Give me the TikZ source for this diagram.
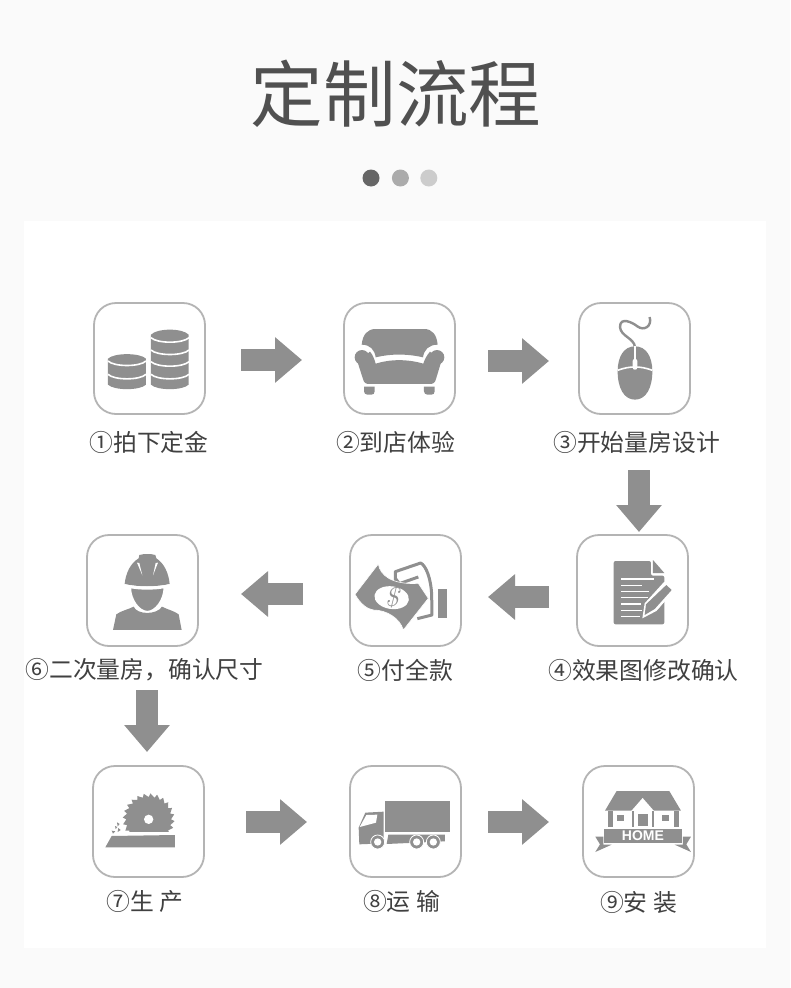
\documentclass[tikz,border=0pt]{standalone}
\usepackage{fontspec}
\newfontfamily\cjk{Noto Sans CJK SC}
\newfontfamily\hfont{Liberation Sans}
\usetikzlibrary{arrows.meta,positioning}
\definecolor{bgc}{HTML}{FAFAFA}
\definecolor{ttl}{HTML}{505050}
\definecolor{txc}{HTML}{404040}
\definecolor{icc}{HTML}{8F8F8F}
\definecolor{brd}{HTML}{B4B4B4}
\tikzset{
  stp/.style={draw=brd,line width=1.8pt,fill=white,rounded corners=22pt,
              minimum size=111pt,inner sep=0pt,outer sep=0pt},
  lbl/.style={font=\cjk\fontsize{23.8}{26}\selectfont,text=txc,inner sep=0pt},
  ar/.style={-{Triangle[length=27pt,width=44pt]},line width=22pt,draw=icc},
  dot/.style={circle,inner sep=0pt,minimum size=17pt},
  ico/.style={x=.3333pt,y=-.3333pt,fill=icc},
  wln/.style={draw=white,line width=1.6pt},
  gln/.style={draw=icc,line width=2.4pt,fill=none},
}
\begin{document}
\begin{tikzpicture}[x=1pt,y=-1pt]
  \fill[bgc] (0,0) rectangle (790,988);
  \fill[white] (24,221) rectangle (766,948);
  \node[font=\cjk\fontsize{72.6}{80}\selectfont,text=ttl,inner sep=0pt] (title) at (396,94) {定制流程};
  \node[dot,fill=black!60] (d1) at (371,178) {};
  \node[dot,fill=black!33] (d2) [right=12pt of d1] {};
  \node[dot,fill=black!20] (d3) [right=11pt of d2] {};

  \node[stp] (st1) at (149.5,358.5) {};
  \node[stp] (st2) [right=139pt of st1] {};
  \node[stp] (st3) [right=124pt of st2] {};
  \node[stp] (st4) [below=121pt of st3,xshift=-2pt] {};
  \node[stp] (st5) [left=116pt of st4] {};
  \node[stp] (st6) [left=152pt of st5] {};
  \node[stp] (st7) [below=120pt of st6,xshift=6pt] {};
  \node[stp] (st8) [right=146pt of st7] {};
  \node[stp] (st9) [right=122pt of st8] {};

  \node[lbl] (lb1) at (149,442) {①拍下定金};
  \node[lbl] (lb2) at (395.5,442) {②到店体验};
  \node[lbl] (lb3) at (636.5,442) {③开始量房设计};
  \node[lbl] (lb4) at (643.5,670) {④效果图修改确认};
  \node[lbl] (lb5) at (405.5,670) {⑤付全款};
  \node[lbl] (lb6) at (144.5,670) {⑥二次量房，确认尺寸};
  \node[lbl] (lb7) at (145,901) {⑦生 产};
  \node[lbl] (lb8) at (401.5,901) {⑧运 输};
  \node[lbl] (lb9) at (638.5,902) {⑨安 装};

  \draw[ar,shorten <=36pt,shorten >=42pt] ([yshift=-1.5pt]st1.east) -- ([yshift=-1.5pt]st2.west);
  \draw[ar,shorten <=33pt,shorten >=30pt] ([yshift=-2.5pt]st2.east) -- ([yshift=-2.5pt]st3.west);
  \draw[ar,shorten <=56pt,shorten >=3pt] ([xshift=4.5pt]st3.south) -- ([xshift=6.5pt]st4.north);
  \draw[ar,shorten <=28pt,shorten >=27pt] ([yshift=-6.5pt]st4.west) -- ([yshift=-6.5pt]st5.east);
  \draw[ar,shorten <=47pt,shorten >=43pt] ([yshift=-3.5pt]st5.west) -- ([yshift=-3.5pt]st6.east);
  \draw[ar,shorten <=44pt,shorten >=14pt] ([xshift=4.5pt]st6.south) -- ([xshift=-1.5pt]st7.north);
  \draw[ar,shorten <=42pt,shorten >=43pt] ([yshift=-.5pt]st7.east) -- ([yshift=-.5pt]st8.west);
  \draw[ar,shorten <=27pt,shorten >=34pt] ([yshift=-.5pt]st8.east) -- ([yshift=-.5pt]st9.west);

  % coins
  \begin{scope}[shift={(94,303)},ico]
    \fill (42,167) -- (42,245) .. controls (60,263) and (138,263) .. (156,245) -- (156,167)
      .. controls (138,149) and (60,149) .. (42,167) -- cycle;
    \fill (171,95) -- (171,245) .. controls (189,263) and (266,263) .. (284,245) -- (284,95)
      .. controls (266,75) and (189,75) .. (171,95) -- cycle;
    \foreach \ex/\ey in {42/174,42/214,171/104,171/141,171/176,171/214}
      \draw[wln] (\ex,\ey) .. controls (\ex+18,\ey+18) and (\ex+96,\ey+18) .. (\ex+114,\ey);
  \end{scope}

  % sofa
  \begin{scope}[shift={(344,303)},ico]
    \fill (53,125) .. controls (56,95) and (70,78) .. (95,78) -- (240,78)
      .. controls (265,78) and (278,95) .. (281,125) .. controls (255,125) and (240,140) .. (237,163)
      .. controls (190,152) and (140,152) .. (95,163) .. controls (92,140) and (78,125) .. (53,125) -- cycle;
    \fill (54,163) circle (22) (279,163) circle (22);
    \fill (40,175) -- (78,146) .. controls (86,155) and (92,170) .. (95,182)
      .. controls (140,168) and (190,168) .. (238,182) .. controls (241,170) and (250,155) .. (258,146)
      -- (292,175) -- (276,228) .. controls (274,238) and (268,243) .. (258,243) -- (75,243)
      .. controls (65,243) and (59,238) .. (57,228) -- cycle;
    \fill (60,251) -- (92,251) -- (92,265) .. controls (92,272) and (88,275) .. (82,275) -- (70,275)
      .. controls (64,275) and (60,270) .. (60,265) -- cycle;
    \fill (240,251) -- (272,251) -- (272,265) .. controls (272,272) and (268,275) .. (262,275) -- (250,275)
      .. controls (244,275) and (240,270) .. (240,265) -- cycle;
  \end{scope}

  % mouse
  \begin{scope}[shift={(579,303)},ico]
    \draw[gln] (168,132) .. controls (165,105) and (125,100) .. (123,72)
      .. controls (123,40) and (160,58) .. (175,70) .. controls (195,85) and (220,70) .. (212,42);
    \fill (168,130) .. controls (135,130) and (116,160) .. (116,205) .. controls (116,255) and (135,290) .. (168,290)
      .. controls (201,290) and (220,255) .. (220,205) .. controls (220,160) and (201,130) .. (168,130) -- cycle;
    \draw[wln] (116,202) .. controls (135,195) and (150,192) .. (168,192) .. controls (186,192) and (201,195) .. (220,202);
    \draw[wln] (168,130) -- (168,168);
    \fill[white,rounded corners=2pt] (161,168) rectangle (175,200);
  \end{scope}

  % document
  \begin{scope}[shift={(577,535)},ico]
    \fill[rounded corners=2pt] (110,78) -- (222,78) -- (222,122) -- (262,122) -- (262,268) -- (110,268) -- cycle;
    \fill (228,75) -- (262,114) -- (228,114) -- cycle;
    \foreach \ly/\lx in {132/232,151/195,170/216,188/214,207/192,226/195,244/190}
      \draw[wln] (132,\ly) -- (\lx,\ly);
    \fill[white] (262,140) -- (292,165) -- (238,228) -- (196,250) -- (203,205) -- cycle;
    \fill[white] (262,165) -- (262,196) -- (238,228) -- (280,180) -- cycle;
    \fill (268,150) -- (284,165) -- (233,222) -- (203,240) -- (207,208) -- cycle;
  \end{scope}

  % money
  \begin{scope}[shift={(350,535)},ico]
    \draw[draw=icc,line width=3pt,fill=none,line join=round] (136,145) -- (136,110) -- (212,84)
      .. controls (228,92) and (243,130) .. (245,180) -- (246,240) -- (202,251);
    \draw[draw=icc,line width=3pt,fill=none] (136,130) -- (148,146) -- (205,126);
    \fill (263,163) rectangle (292,250);
    \fill[draw=white,line width=.6pt] (15,178) -- (85,87) .. controls (90,120) and (125,150) .. (205,145) -- (235,190)
      -- (160,285) .. controls (150,250) and (110,225) .. (70,225) .. controls (50,222) and (30,205) .. (15,178) -- cycle;
    \fill[white,rotate around={-8:(125,188)}] (125,188) ellipse (52 and 34);
    \node[text=icc,font=\fontsize{27}{27}\selectfont\itshape,inner sep=0pt] (dollar) at (125,186) {\$};
  \end{scope}

  % worker
  \begin{scope}[shift={(87,535)},ico]
    \fill (113,147) .. controls (116,115) and (130,85) .. (155,70) -- (157,60) .. controls (170,56) and (192,56) .. (205,60)
      -- (208,70) .. controls (232,85) and (245,115) .. (248,147) .. controls (205,156) and (155,156) .. (113,147) -- cycle;
    \fill[white] (150,83) -- (157,84) -- (166,121) -- cycle;
    \fill[white] (213,83) -- (206,84) -- (198,121) -- cycle;
    \fill (78,285) -- (88,238) .. controls (105,226) and (120,225) .. (140,215) .. controls (150,240) and (210,240) .. (225,215)
      .. controls (245,225) and (262,228) .. (275,238) -- (284,285) -- cycle;
    \fill[draw=white,line width=1.6pt] (130,157) .. controls (155,163) and (205,163) .. (232,157)
      .. controls (232,195) and (205,230) .. (181,230) .. controls (157,230) and (130,195) .. (130,157) -- cycle;
    \draw[wln] (113,150) .. controls (155,160) and (205,160) .. (248,150);
  \end{scope}

  % saw
  \begin{scope}[shift={(93,766)},ico]
    \begin{scope}
      \clip (60,50) rectangle (260,197);
      \fill[shift={(167,160)}] (0:67) \foreach \a in {0,15,...,345}{ -- (\a+4:78) -- (\a+15:67)} -- cycle;
    \end{scope}
    \fill[white] (167,160) circle (14);
    \fill (56,210) -- (246,207) -- (246,244) -- (37,244) -- cycle;
    \fill (72,169) -- (80,174) -- (74,181) -- cycle;
    \fill (66,180) -- (73,183) -- (68,189) -- cycle;
    \fill (76,186) -- (83,192) -- (74,198) -- cycle;
    \fill (56,194) -- (67,196) -- (60,203) -- cycle;
  \end{scope}

  % truck
  \begin{scope}[shift={(350,766)},ico]
    \fill (105,105) rectangle (300,198);
    \fill (26,185) -- (46,140) -- (101,137) -- (101,232) -- (28,235) -- cycle;
    \fill[white] (29,183) -- (49,147) -- (82,146) -- (78,170) -- cycle;
    \fill (115,206) -- (285,206) -- (285,226) -- (110,234) -- cycle;
    \foreach \wx in {83,200,250}{
      \fill[draw=white,line width=.8pt] (\wx,228) circle (21);
      \fill[white] (\wx,228) circle (11);
    }
  \end{scope}

  % house
  \begin{scope}[shift={(350,766)},ico]
    \fill (765,134) -- (800,75) -- (958,75) -- (993,134) -- cycle;
    \fill[white] (775,134) rectangle (985,182);
    \fill[white] (843,136) -- (878,96) -- (913,136) -- cycle;
    \foreach \px/\qx in {775/788,846/853,905/912,973/986}
      \fill (\px,134) rectangle (\qx,182);
    \fill (865,143) rectangle (893,180);
    \fill (800,147) rectangle (822,164);
    \fill (935,147) rectangle (958,164);
    \fill (762,188) rectangle (997,232);
    \node[text=white,font=\hfont\bfseries\fontsize{14}{14}\selectfont,inner sep=0pt] (home) at (879,209) {HOME};
    \fill (736,212) -- (760,212) -- (760,236) -- (785,236) -- (736,258) -- (750,235) -- cycle;
    \fill (1023,212) -- (999,212) -- (999,236) -- (974,236) -- (1023,258) -- (1009,235) -- cycle;
  \end{scope}
\end{tikzpicture}
\end{document}
